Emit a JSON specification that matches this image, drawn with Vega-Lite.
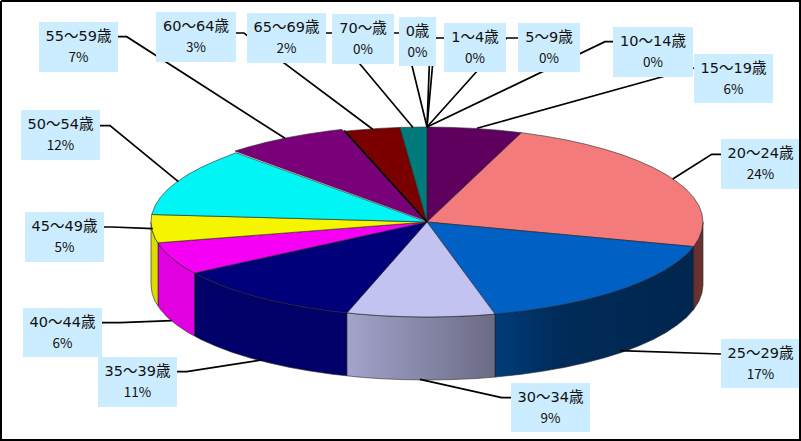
{
  "$schema": "https://vega.github.io/schema/vega-lite/v6.json",
  "width": 801,
  "height": 441,
  "autosize": {"type": "none"},
  "padding": 0,
  "background": "white",
  "config": {"view": {"stroke": null}},
  "resolve": {"scale": {"fill": "independent"}},
  "datasets": {
    "top": [
      {"age":"15～19歳","n":0,"x":427,"y":222},{"age":"15～19歳","n":1,"x":427,"y":127},{"age":"15～19歳","n":2,"x":451.1,"y":127.4},{"age":"15～19歳","n":3,"x":474.9,"y":128.4},{"age":"15～19歳","n":4,"x":498.4,"y":130.2},{"age":"15～19歳","n":5,"x":521.4,"y":132.7},{"age":"15～19歳","n":6,"x":427,"y":222},
      {"age":"20～24歳","n":0,"x":427,"y":222},{"age":"20～24歳","n":1,"x":521.4,"y":132.7},{"age":"20～24歳","n":2,"x":543.6,"y":135.9},{"age":"20～24歳","n":3,"x":565,"y":139.7},{"age":"20～24歳","n":4,"x":585.3,"y":144.2},{"age":"20～24歳","n":5,"x":604.4,"y":149.2},{"age":"20～24歳","n":6,"x":622.2,"y":154.8},{"age":"20～24歳","n":7,"x":638.4,"y":160.9},{"age":"20～24歳","n":8,"x":653.1,"y":167.5},{"age":"20～24歳","n":9,"x":666,"y":174.5},{"age":"20～24歳","n":10,"x":677.1,"y":181.9},{"age":"20～24歳","n":11,"x":686.4,"y":189.5},{"age":"20～24歳","n":12,"x":693.6,"y":197.4},{"age":"20～24歳","n":13,"x":698.8,"y":205.5},{"age":"20～24歳","n":14,"x":701.9,"y":213.7},{"age":"20～24歳","n":15,"x":703,"y":222},{"age":"20～24歳","n":16,"x":701.9,"y":230.3},{"age":"20～24歳","n":17,"x":698.8,"y":238.5},{"age":"20～24歳","n":18,"x":693.6,"y":246.6},{"age":"20～24歳","n":19,"x":427,"y":222},
      {"age":"25～29歳","n":0,"x":427,"y":222},{"age":"25～29歳","n":1,"x":693.6,"y":246.6},{"age":"25～29歳","n":2,"x":686.4,"y":254.5},{"age":"25～29歳","n":3,"x":677.1,"y":262.1},{"age":"25～29歳","n":4,"x":666,"y":269.5},{"age":"25～29歳","n":5,"x":653.1,"y":276.5},{"age":"25～29歳","n":6,"x":638.4,"y":283.1},{"age":"25～29歳","n":7,"x":622.2,"y":289.2},{"age":"25～29歳","n":8,"x":604.4,"y":294.8},{"age":"25～29歳","n":9,"x":585.3,"y":299.8},{"age":"25～29歳","n":10,"x":565,"y":304.3},{"age":"25～29歳","n":11,"x":543.6,"y":308.1},{"age":"25～29歳","n":12,"x":521.4,"y":311.3},{"age":"25～29歳","n":13,"x":495,"y":314.1},{"age":"25～29歳","n":14,"x":427,"y":222},
      {"age":"30～34歳","n":0,"x":427,"y":222},{"age":"30～34歳","n":1,"x":495,"y":314.1},{"age":"30～34歳","n":2,"x":474.9,"y":315.6},{"age":"30～34歳","n":3,"x":451.1,"y":316.6},{"age":"30～34歳","n":4,"x":427,"y":317},{"age":"30～34歳","n":5,"x":402.9,"y":316.6},{"age":"30～34歳","n":6,"x":379.1,"y":315.6},{"age":"30～34歳","n":7,"x":355.6,"y":313.8},{"age":"30～34歳","n":8,"x":347,"y":312.8},{"age":"30～34歳","n":9,"x":427,"y":222},
      {"age":"35～39歳","n":0,"x":427,"y":222},{"age":"35～39歳","n":1,"x":347,"y":312.8},{"age":"35～39歳","n":2,"x":332.6,"y":311.3},{"age":"35～39歳","n":3,"x":310.4,"y":308.1},{"age":"35～39歳","n":4,"x":289,"y":304.3},{"age":"35～39歳","n":5,"x":268.7,"y":299.8},{"age":"35～39歳","n":6,"x":249.6,"y":294.8},{"age":"35～39歳","n":7,"x":231.8,"y":289.2},{"age":"35～39歳","n":8,"x":215.6,"y":283.1},{"age":"35～39歳","n":9,"x":200.9,"y":276.5},{"age":"35～39歳","n":10,"x":194.5,"y":273},{"age":"35～39歳","n":11,"x":427,"y":222},
      {"age":"40～44歳","n":0,"x":427,"y":222},{"age":"40～44歳","n":1,"x":194.5,"y":273},{"age":"40～44歳","n":2,"x":188,"y":269.5},{"age":"40～44歳","n":3,"x":176.9,"y":262.1},{"age":"40～44歳","n":4,"x":167.6,"y":254.5},{"age":"40～44歳","n":5,"x":160.4,"y":246.6},{"age":"40～44歳","n":6,"x":158,"y":242.8},{"age":"40～44歳","n":7,"x":427,"y":222},
      {"age":"45～49歳","n":0,"x":427,"y":222},{"age":"45～49歳","n":1,"x":158,"y":242.8},{"age":"45～49歳","n":2,"x":155.2,"y":238.5},{"age":"45～49歳","n":3,"x":152.1,"y":230.3},{"age":"45～49歳","n":4,"x":151,"y":222},{"age":"45～49歳","n":5,"x":151.7,"y":214.5},{"age":"45～49歳","n":6,"x":427,"y":222},
      {"age":"50～54歳","n":0,"x":427,"y":222},{"age":"50～54歳","n":1,"x":151.7,"y":214.5},{"age":"50～54歳","n":2,"x":155.2,"y":205.5},{"age":"50～54歳","n":3,"x":160.4,"y":197.4},{"age":"50～54歳","n":4,"x":167.6,"y":189.5},{"age":"50～54歳","n":5,"x":176.9,"y":181.9},{"age":"50～54歳","n":6,"x":188,"y":174.5},{"age":"50～54歳","n":7,"x":200.9,"y":167.5},{"age":"50～54歳","n":8,"x":215.6,"y":160.9},{"age":"50～54歳","n":9,"x":236,"y":152.7},{"age":"50～54歳","n":10,"x":427,"y":222},
      {"age":"55～59歳","n":0,"x":427,"y":221},{"age":"55～59歳","n":1,"x":235,"y":151},{"age":"55～59歳","n":2,"x":247.6,"y":147.2},{"age":"55～59歳","n":3,"x":266.7,"y":142.2},{"age":"55～59歳","n":4,"x":287,"y":137.7},{"age":"55～59歳","n":5,"x":308.4,"y":133.9},{"age":"55～59歳","n":6,"x":330.6,"y":130.7},{"age":"55～59歳","n":7,"x":342,"y":129.4},{"age":"55～59歳","n":8,"x":427,"y":221},
      {"age":"60～64歳","n":0,"x":427,"y":222},{"age":"60～64歳","n":1,"x":345,"y":131.2},{"age":"60～64歳","n":2,"x":355.6,"y":130.2},{"age":"60～64歳","n":3,"x":379.1,"y":128.4},{"age":"60～64歳","n":4,"x":400,"y":127.4},{"age":"60～64歳","n":5,"x":427,"y":222},
      {"age":"65～69歳","n":0,"x":427,"y":222},{"age":"65～69歳","n":1,"x":400,"y":127.4},{"age":"65～69歳","n":2,"x":427,"y":127},{"age":"65～69歳","n":3,"x":427,"y":222}
    ],
    "side": [
      {"age":"20～24歳","n":0,"x":693.6,"y":246.6},{"age":"20～24歳","n":1,"x":698.8,"y":238.5},{"age":"20～24歳","n":2,"x":701.9,"y":230.3},{"age":"20～24歳","n":3,"x":703,"y":222},{"age":"20～24歳","n":4,"x":703,"y":285},{"age":"20～24歳","n":5,"x":701.9,"y":293.3},{"age":"20～24歳","n":6,"x":698.8,"y":301.5},{"age":"20～24歳","n":7,"x":693.6,"y":309.6},{"age":"20～24歳","n":8,"x":693.6,"y":246.6},
      {"age":"25～29歳","n":0,"x":693.6,"y":246.6},{"age":"25～29歳","n":1,"x":686.4,"y":254.5},{"age":"25～29歳","n":2,"x":677.1,"y":262.1},{"age":"25～29歳","n":3,"x":666,"y":269.5},{"age":"25～29歳","n":4,"x":653.1,"y":276.5},{"age":"25～29歳","n":5,"x":638.4,"y":283.1},{"age":"25～29歳","n":6,"x":622.2,"y":289.2},{"age":"25～29歳","n":7,"x":604.4,"y":294.8},{"age":"25～29歳","n":8,"x":585.3,"y":299.8},{"age":"25～29歳","n":9,"x":565,"y":304.3},{"age":"25～29歳","n":10,"x":543.6,"y":308.1},{"age":"25～29歳","n":11,"x":521.4,"y":311.3},{"age":"25～29歳","n":12,"x":495,"y":314.1},{"age":"25～29歳","n":13,"x":495,"y":377.1},{"age":"25～29歳","n":14,"x":521.4,"y":374.3},{"age":"25～29歳","n":15,"x":543.6,"y":371.1},{"age":"25～29歳","n":16,"x":565,"y":367.3},{"age":"25～29歳","n":17,"x":585.3,"y":362.8},{"age":"25～29歳","n":18,"x":604.4,"y":357.8},{"age":"25～29歳","n":19,"x":622.2,"y":352.2},{"age":"25～29歳","n":20,"x":638.4,"y":346.1},{"age":"25～29歳","n":21,"x":653.1,"y":339.5},{"age":"25～29歳","n":22,"x":666,"y":332.5},{"age":"25～29歳","n":23,"x":677.1,"y":325.1},{"age":"25～29歳","n":24,"x":686.4,"y":317.5},{"age":"25～29歳","n":25,"x":693.6,"y":309.6},{"age":"25～29歳","n":26,"x":693.6,"y":246.6},
      {"age":"30～34歳","n":0,"x":495,"y":314.1},{"age":"30～34歳","n":1,"x":474.9,"y":315.6},{"age":"30～34歳","n":2,"x":451.1,"y":316.6},{"age":"30～34歳","n":3,"x":427,"y":317},{"age":"30～34歳","n":4,"x":402.9,"y":316.6},{"age":"30～34歳","n":5,"x":379.1,"y":315.6},{"age":"30～34歳","n":6,"x":355.6,"y":313.8},{"age":"30～34歳","n":7,"x":347,"y":312.8},{"age":"30～34歳","n":8,"x":347,"y":375.8},{"age":"30～34歳","n":9,"x":355.6,"y":376.8},{"age":"30～34歳","n":10,"x":379.1,"y":378.6},{"age":"30～34歳","n":11,"x":402.9,"y":379.6},{"age":"30～34歳","n":12,"x":427,"y":380},{"age":"30～34歳","n":13,"x":451.1,"y":379.6},{"age":"30～34歳","n":14,"x":474.9,"y":378.6},{"age":"30～34歳","n":15,"x":495,"y":377.1},{"age":"30～34歳","n":16,"x":495,"y":314.1},
      {"age":"35～39歳","n":0,"x":347,"y":312.8},{"age":"35～39歳","n":1,"x":332.6,"y":311.3},{"age":"35～39歳","n":2,"x":310.4,"y":308.1},{"age":"35～39歳","n":3,"x":289,"y":304.3},{"age":"35～39歳","n":4,"x":268.7,"y":299.8},{"age":"35～39歳","n":5,"x":249.6,"y":294.8},{"age":"35～39歳","n":6,"x":231.8,"y":289.2},{"age":"35～39歳","n":7,"x":215.6,"y":283.1},{"age":"35～39歳","n":8,"x":200.9,"y":276.5},{"age":"35～39歳","n":9,"x":194.5,"y":273},{"age":"35～39歳","n":10,"x":194.5,"y":336},{"age":"35～39歳","n":11,"x":200.9,"y":339.5},{"age":"35～39歳","n":12,"x":215.6,"y":346.1},{"age":"35～39歳","n":13,"x":231.8,"y":352.2},{"age":"35～39歳","n":14,"x":249.6,"y":357.8},{"age":"35～39歳","n":15,"x":268.7,"y":362.8},{"age":"35～39歳","n":16,"x":289,"y":367.3},{"age":"35～39歳","n":17,"x":310.4,"y":371.1},{"age":"35～39歳","n":18,"x":332.6,"y":374.3},{"age":"35～39歳","n":19,"x":347,"y":375.8},{"age":"35～39歳","n":20,"x":347,"y":312.8},
      {"age":"40～44歳","n":0,"x":194.5,"y":273},{"age":"40～44歳","n":1,"x":188,"y":269.5},{"age":"40～44歳","n":2,"x":176.9,"y":262.1},{"age":"40～44歳","n":3,"x":167.6,"y":254.5},{"age":"40～44歳","n":4,"x":160.4,"y":246.6},{"age":"40～44歳","n":5,"x":158,"y":242.8},{"age":"40～44歳","n":6,"x":158,"y":305.8},{"age":"40～44歳","n":7,"x":160.4,"y":309.6},{"age":"40～44歳","n":8,"x":167.6,"y":317.5},{"age":"40～44歳","n":9,"x":176.9,"y":325.1},{"age":"40～44歳","n":10,"x":188,"y":332.5},{"age":"40～44歳","n":11,"x":194.5,"y":336},{"age":"40～44歳","n":12,"x":194.5,"y":273},
      {"age":"45～49歳","n":0,"x":158,"y":242.8},{"age":"45～49歳","n":1,"x":155.2,"y":238.5},{"age":"45～49歳","n":2,"x":152.1,"y":230.3},{"age":"45～49歳","n":3,"x":151,"y":222},{"age":"45～49歳","n":4,"x":151,"y":285},{"age":"45～49歳","n":5,"x":152.1,"y":293.3},{"age":"45～49歳","n":6,"x":155.2,"y":301.5},{"age":"45～49歳","n":7,"x":158,"y":305.8},{"age":"45～49歳","n":8,"x":158,"y":242.8}
    ],
    "leaders": [
      {"id":"55～59歳","n":0,"x":118,"y":36.7},{"id":"55～59歳","n":1,"x":126.7,"y":36.7},{"id":"55～59歳","n":2,"x":285,"y":138.3},
      {"id":"50～54歳","n":0,"x":100,"y":125.7},{"id":"50～54歳","n":1,"x":110,"y":125.7},{"id":"50～54歳","n":2,"x":178.3,"y":181.7},
      {"id":"45～49歳","n":0,"x":104,"y":227},{"id":"45～49歳","n":1,"x":112,"y":227},{"id":"45～49歳","n":2,"x":152.7,"y":228.7},
      {"id":"40～44歳","n":0,"x":101.7,"y":322.7},{"id":"40～44歳","n":1,"x":120,"y":322.7},{"id":"40～44歳","n":2,"x":171.7,"y":320.7},
      {"id":"35～39歳","n":0,"x":176.7,"y":371.7},{"id":"35～39歳","n":1,"x":186.7,"y":371.7},{"id":"35～39歳","n":2,"x":261.7,"y":360},
      {"id":"30～34歳","n":0,"x":511,"y":397.7},{"id":"30～34歳","n":1,"x":501.7,"y":397.7},{"id":"30～34歳","n":2,"x":420,"y":379.3},
      {"id":"25～29歳","n":0,"x":721,"y":354},{"id":"25～29歳","n":1,"x":620,"y":350.7},
      {"id":"20～24歳","n":0,"x":721,"y":154.3},{"id":"20～24歳","n":1,"x":711.7,"y":154.3},{"id":"20～24歳","n":2,"x":672.7,"y":179},
      {"id":"15～19歳","n":0,"x":694,"y":68},{"id":"15～19歳","n":1,"x":477,"y":128.3},
      {"id":"10～14歳","n":0,"x":613,"y":41.7},{"id":"10～14歳","n":1,"x":605,"y":41.7},{"id":"10～14歳","n":2,"x":427,"y":127},
      {"id":"5～9歳","n":0,"x":518,"y":38},{"id":"5～9歳","n":1,"x":506.7,"y":38},{"id":"5～9歳","n":2,"x":427,"y":127},
      {"id":"1～4歳","n":0,"x":444,"y":38},{"id":"1～4歳","n":1,"x":435,"y":38},{"id":"1～4歳","n":2,"x":427,"y":127},
      {"id":"0歳","n":0,"x":429.5,"y":60},{"id":"0歳","n":1,"x":427,"y":127},
      {"id":"70～歳","n":0,"x":394,"y":33},{"id":"70～歳","n":1,"x":404,"y":33},{"id":"70～歳","n":2,"x":427,"y":127},
      {"id":"65～69歳","n":0,"x":326,"y":33},{"id":"65～69歳","n":1,"x":334,"y":33},{"id":"65～69歳","n":2,"x":413,"y":127.5},
      {"id":"60～64歳","n":0,"x":236,"y":33},{"id":"60～64歳","n":1,"x":244,"y":33},{"id":"60～64歳","n":2,"x":372.7,"y":129.3},
      {"id":"gap","n":0,"x":344,"y":130.5},{"id":"gap","n":1,"x":427,"y":222}
    ],
    "labels": [
      {"age":"55～59歳","pct":"7%","x0":39,"x1":118,"y0":22,"y1":72},
      {"age":"60～64歳","pct":"3%","x0":156,"x1":236,"y0":12,"y1":62},
      {"age":"65～69歳","pct":"2%","x0":247,"x1":326,"y0":13,"y1":63},
      {"age":"70～歳","pct":"0%","x0":332,"x1":394,"y0":14,"y1":64},
      {"age":"0歳","pct":"0%","x0":399,"x1":436,"y0":17,"y1":66},
      {"age":"1～4歳","pct":"0%","x0":444,"x1":506,"y0":23,"y1":72},
      {"age":"5～9歳","pct":"0%","x0":518,"x1":580,"y0":23,"y1":72},
      {"age":"10～14歳","pct":"0%","x0":613,"x1":693,"y0":27,"y1":77},
      {"age":"15～19歳","pct":"6%","x0":694,"x1":773,"y0":54,"y1":103},
      {"age":"20～24歳","pct":"24%","x0":721,"x1":800,"y0":139,"y1":189},
      {"age":"25～29歳","pct":"17%","x0":721,"x1":800,"y0":339,"y1":388},
      {"age":"30～34歳","pct":"9%","x0":511,"x1":590,"y0":383,"y1":432},
      {"age":"35～39歳","pct":"11%","x0":98,"x1":177,"y0":357,"y1":407},
      {"age":"40～44歳","pct":"6%","x0":23,"x1":102,"y0":308,"y1":357},
      {"age":"45～49歳","pct":"5%","x0":25,"x1":104,"y0":212,"y1":262},
      {"age":"50～54歳","pct":"12%","x0":21,"x1":100,"y0":110,"y1":160}
    ],
    "frame": [
      {"n":0,"x":1,"y":1},{"n":1,"x":800,"y":1},{"n":2,"x":800,"y":440},{"n":3,"x":1,"y":440},{"n":4,"x":1,"y":1}
    ]
  },
  "layer": [
    {
      "data": {"name": "side"},
      "transform": [{"filter": "indexof(['20～24歳','35～39歳','40～44歳','45～49歳'], datum.age) >= 0"}],
      "mark": {"type": "line", "stroke": "#222222", "strokeWidth": 0.6},
      "encoding": {
        "x": {"field": "x", "type": "quantitative", "scale": {"domain": [0, 801], "nice": false, "zero": false}, "axis": null},
        "y": {"field": "y", "type": "quantitative", "scale": {"domain": [441, 0], "nice": false, "zero": false}, "axis": null},
        "order": {"field": "n"},
        "fill": {"field": "age", "type": "nominal", "legend": null,
          "scale": {"domain": ["20～24歳","35～39歳","40～44歳","45～49歳"], "range": ["#6B3030","#000068","#E000E0","#DCDC00"]}}
      }
    },
    {
      "data": {"name": "side"},
      "transform": [{"filter": "datum.age == '25～29歳'"}],
      "mark": {"type": "line", "stroke": "#222222", "strokeWidth": 0.6,
        "fill": {"gradient": "linear", "x1": 0, "x2": 1, "y1": 0, "y2": 0,
          "stops": [{"offset": 0, "color": "#003C78"}, {"offset": 0.35, "color": "#002A58"}, {"offset": 1, "color": "#00264E"}]}},
      "encoding": {
        "x": {"field": "x", "type": "quantitative", "scale": {"domain": [0, 801], "nice": false, "zero": false}, "axis": null},
        "y": {"field": "y", "type": "quantitative", "scale": {"domain": [441, 0], "nice": false, "zero": false}, "axis": null},
        "order": {"field": "n"}
      }
    },
    {
      "data": {"name": "side"},
      "transform": [{"filter": "datum.age == '30～34歳'"}],
      "mark": {"type": "line", "stroke": "#222222", "strokeWidth": 0.6,
        "fill": {"gradient": "linear", "x1": 0, "x2": 1, "y1": 0, "y2": 0,
          "stops": [{"offset": 0, "color": "#A3A3CC"}, {"offset": 1, "color": "#6B6B85"}]}},
      "encoding": {
        "x": {"field": "x", "type": "quantitative", "scale": {"domain": [0, 801], "nice": false, "zero": false}, "axis": null},
        "y": {"field": "y", "type": "quantitative", "scale": {"domain": [441, 0], "nice": false, "zero": false}, "axis": null},
        "order": {"field": "n"}
      }
    },
    {
      "data": {"name": "top"},
      "mark": {"type": "line", "stroke": "#222222", "strokeWidth": 0.6},
      "encoding": {
        "x": {"field": "x", "type": "quantitative", "scale": {"domain": [0, 801], "nice": false, "zero": false}, "axis": null},
        "y": {"field": "y", "type": "quantitative", "scale": {"domain": [441, 0], "nice": false, "zero": false}, "axis": null},
        "order": {"field": "n"},
        "fill": {"field": "age", "type": "nominal", "legend": null,
          "scale": {
            "domain": ["15～19歳","20～24歳","25～29歳","30～34歳","35～39歳","40～44歳","45～49歳","50～54歳","55～59歳","60～64歳","65～69歳"],
            "range": ["#5F005F","#F47B7B","#0060C4","#C3C3F2","#00007A","#F500F5","#F5F500","#00F5F5","#7A007A","#7A0000","#007A7A"]}}
      }
    },
    {
      "data": {"name": "leaders"},
      "mark": {"type": "line", "color": "black", "strokeWidth": 1.7},
      "encoding": {
        "x": {"field": "x", "type": "quantitative", "scale": {"domain": [0, 801], "nice": false, "zero": false}, "axis": null},
        "y": {"field": "y", "type": "quantitative", "scale": {"domain": [441, 0], "nice": false, "zero": false}, "axis": null},
        "detail": {"field": "id"},
        "order": {"field": "n"}
      }
    },
    {
      "data": {"name": "labels"},
      "mark": {"type": "rect", "color": "#CCECFF"},
      "encoding": {
        "x": {"field": "x0", "type": "quantitative", "scale": {"domain": [0, 801], "nice": false, "zero": false}, "axis": null},
        "x2": {"field": "x1"},
        "y": {"field": "y0", "type": "quantitative", "scale": {"domain": [441, 0], "nice": false, "zero": false}, "axis": null},
        "y2": {"field": "y1"}
      }
    },
    {
      "data": {"name": "labels"},
      "transform": [
        {"calculate": "(datum.x0 + datum.x1) / 2", "as": "xc"},
        {"calculate": "datum.y0 + 15", "as": "yt"},
        {"calculate": "datum.y0 + 36", "as": "yp"}
      ],
      "layer": [
        {
          "mark": {"type": "text", "font": "DejaVu Sans, 'Noto Sans CJK JP'", "fontSize": 14.5, "color": "#111111", "baseline": "middle"},
          "encoding": {
            "x": {"field": "xc", "type": "quantitative", "scale": {"domain": [0, 801], "nice": false, "zero": false}, "axis": null},
            "y": {"field": "yt", "type": "quantitative", "scale": {"domain": [441, 0], "nice": false, "zero": false}, "axis": null},
            "text": {"field": "age"}
          }
        },
        {
          "mark": {"type": "text", "font": "Noto Sans CJK JP", "fontSize": 13.5, "color": "#111111", "baseline": "middle"},
          "encoding": {
            "x": {"field": "xc", "type": "quantitative", "scale": {"domain": [0, 801], "nice": false, "zero": false}, "axis": null},
            "y": {"field": "yp", "type": "quantitative", "scale": {"domain": [441, 0], "nice": false, "zero": false}, "axis": null},
            "text": {"field": "pct"}
          }
        }
      ]
    },
    {
      "data": {"name": "frame"},
      "mark": {"type": "line", "color": "black", "strokeWidth": 2},
      "encoding": {
        "x": {"field": "x", "type": "quantitative", "scale": {"domain": [0, 801], "nice": false, "zero": false}, "axis": null},
        "y": {"field": "y", "type": "quantitative", "scale": {"domain": [441, 0], "nice": false, "zero": false}, "axis": null},
        "order": {"field": "n"}
      }
    }
  ]
}
